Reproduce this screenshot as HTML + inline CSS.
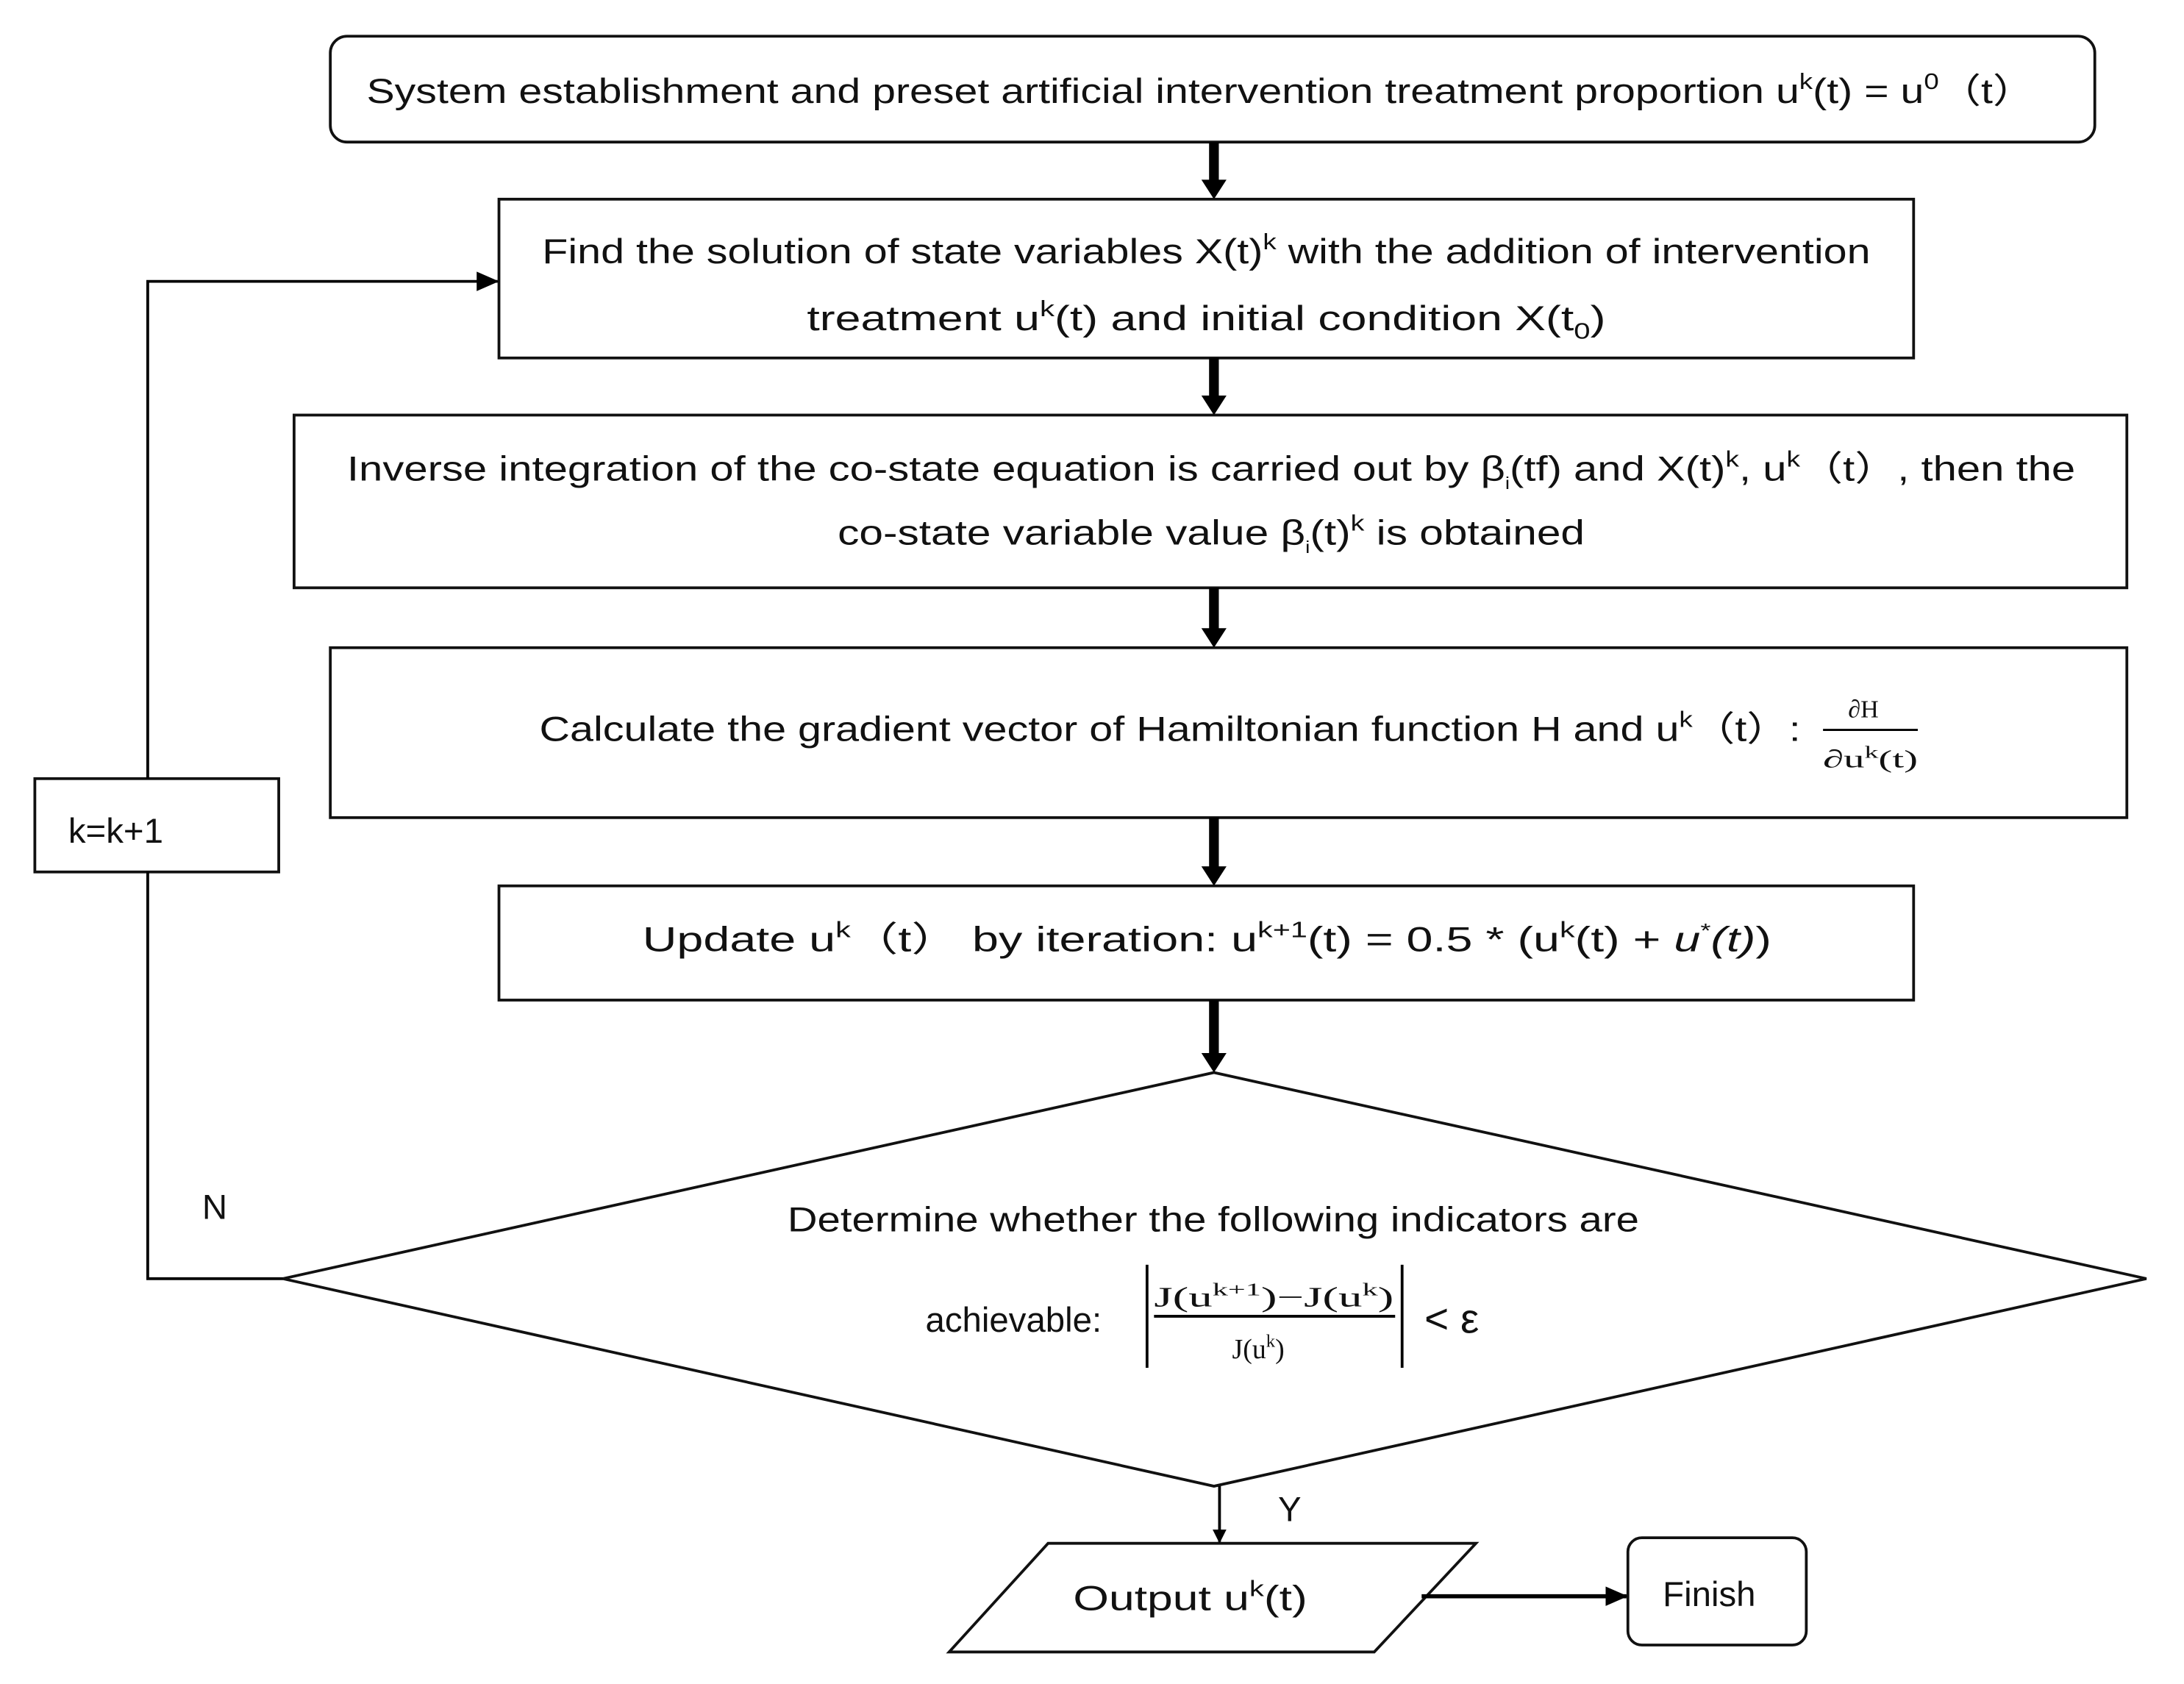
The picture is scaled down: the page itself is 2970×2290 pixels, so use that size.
<!DOCTYPE html>
<html><head><meta charset="utf-8"><style>
html,body{margin:0;padding:0;background:#fff;}
svg{display:block;}
text{font-family:"Liberation Sans",sans-serif;fill:#111;}
.m{font-family:"Liberation Serif",serif;}
</style></head><body>
<svg width="2970" height="2290" viewBox="0 0 1567 1209" preserveAspectRatio="none" xmlns="http://www.w3.org/2000/svg">
<defs>
<marker id="ah" markerWidth="10" markerHeight="10" refX="9" refY="5" orient="auto" markerUnits="userSpaceOnUse"><path d="M0,0 L10,5 L0,10 z" fill="#000"/></marker>
<marker id="ahs" markerWidth="16" markerHeight="14" refX="15" refY="7" orient="auto" markerUnits="userSpaceOnUse"><path d="M0,0 L16,7 L0,14 z" fill="#000"/></marker>
</defs>
<g fill="none" stroke="#111" stroke-width="2">
<rect x="237" y="26" width="1266" height="76" rx="12"/>
<rect x="358" y="143" width="1015" height="114"/>
<rect x="211" y="298" width="1315" height="124"/>
<rect x="237" y="465" width="1289" height="122"/>
<rect x="358" y="636" width="1015" height="82"/>
<polygon points="871,770 1540,918 871,1067 203,918"/>
<polygon points="752,1108 1059,1108 986,1186 681,1186"/>
<rect x="1168" y="1104" width="128" height="77" rx="10"/>
<rect x="25" y="559" width="175" height="67"/>
</g>
<g stroke="#000" stroke-width="7" fill="none">
<line x1="871" y1="102" x2="871" y2="130"/>
<line x1="871" y1="257" x2="871" y2="285"/>
<line x1="871" y1="422" x2="871" y2="452"/>
<line x1="871" y1="587" x2="871" y2="623"/>
<line x1="871" y1="718" x2="871" y2="757"/>
</g>
<g fill="#000">
<path d="M862,129 L880,129 L871,143 z"/>
<path d="M862,284 L880,284 L871,298 z"/>
<path d="M862,451 L880,451 L871,465 z"/>
<path d="M862,622 L880,622 L871,636 z"/>
<path d="M862,756 L880,756 L871,770 z"/>
</g>
<g stroke="#000" stroke-width="2" fill="none">
<line x1="875" y1="1067" x2="875" y2="1107" marker-end="url(#ah)"/>
<line x1="1020" y1="1146" x2="1167" y2="1146" stroke-width="3" marker-end="url(#ahs)"/>
<polyline points="203,918 106,918 106,626"/>
<polyline points="106,559 106,202 357,202" marker-end="url(#ahs)"/>
</g>
<g font-size="25">
<text x="263" y="74" textLength="1197" lengthAdjust="spacingAndGlyphs">System establishment and preset artificial intervention treatment proportion u<tspan font-size="16" dy="-10">k</tspan><tspan dy="10">(t) = u</tspan><tspan font-size="16" dy="-10">0</tspan><tspan dy="10">（t）</tspan></text>
<text x="389" y="189" textLength="953" lengthAdjust="spacingAndGlyphs">Find the solution of state variables  X(t)<tspan font-size="16" dy="-10">k</tspan><tspan dy="10">  with the addition of intervention</tspan></text>
<text x="579" y="237" textLength="573" lengthAdjust="spacingAndGlyphs">treatment  u<tspan font-size="16" dy="-10">k</tspan><tspan dy="10">(t) and initial condition X(t</tspan><tspan font-size="16" dy="6">0</tspan><tspan dy="-6">)</tspan></text>
<text x="249" y="345" textLength="1240" lengthAdjust="spacingAndGlyphs">Inverse integration of the co-state equation is carried out by β<tspan font-size="12" dy="6">i</tspan><tspan dy="-6">(tf)  and  X(t)</tspan><tspan font-size="16" dy="-10">k</tspan><tspan dy="10">,  u</tspan><tspan font-size="16" dy="-10">k</tspan><tspan dy="10">（t）,  then the</tspan></text>
<text x="601" y="391" textLength="536" lengthAdjust="spacingAndGlyphs">co-state variable value   β<tspan font-size="12" dy="6">i</tspan><tspan dy="-6">(t)</tspan><tspan font-size="16" dy="-10">k</tspan><tspan dy="10">  is obtained</tspan></text>
<text x="387" y="532" textLength="905" lengthAdjust="spacingAndGlyphs">Calculate the gradient vector of Hamiltonian function H and  u<tspan font-size="16" dy="-10">k</tspan><tspan dy="10">（t）:</tspan></text>
<text x="1326" y="515" font-size="18" class="m">∂H</text>
<line x1="1308" y1="524" x2="1376" y2="524" stroke="#000" stroke-width="1.5"/>
<text x="1308" y="551" font-size="18" class="m" textLength="68" lengthAdjust="spacingAndGlyphs">∂u<tspan font-size="12" dy="-7">k</tspan><tspan dy="7">(t)</tspan></text>
<text x="461" y="683" textLength="810" lengthAdjust="spacingAndGlyphs">Update  u<tspan font-size="16" dy="-10">k</tspan><tspan dy="10">（t）  by iteration:  u</tspan><tspan font-size="16" dy="-10">k+1</tspan><tspan dy="10">(t) = 0.5 * (u</tspan><tspan font-size="16" dy="-10">k</tspan><tspan dy="10">(t) + </tspan><tspan font-style="italic">u</tspan><tspan font-size="14" dy="-10">*</tspan><tspan dy="10" font-style="italic">(t)</tspan>)</text>
<text x="565" y="884" textLength="611" lengthAdjust="spacingAndGlyphs">Determine whether the following indicators are</text>
<text x="664" y="956">achievable:</text>
<line x1="823" y1="908" x2="823" y2="982" stroke="#000" stroke-width="2"/>
<line x1="1006" y1="908" x2="1006" y2="982" stroke="#000" stroke-width="2"/>
<text x="828" y="938" font-size="20" class="m" textLength="172" lengthAdjust="spacingAndGlyphs">J(u<tspan font-size="13" dy="-8">k+1</tspan><tspan dy="8">)−J(u</tspan><tspan font-size="13" dy="-8">k</tspan><tspan dy="8">)</tspan></text>
<line x1="828" y1="945" x2="1001" y2="945" stroke="#000" stroke-width="2"/>
<text x="884" y="975" font-size="20" class="m">J(u<tspan font-size="13" dy="-8">k</tspan><tspan dy="8">)</tspan></text>
<text x="1022" y="957" font-size="30">&lt; ε</text>
<text x="770" y="1156" textLength="168" lengthAdjust="spacingAndGlyphs">Output  u<tspan font-size="16" dy="-10">k</tspan><tspan dy="10">(t)</tspan></text>
<text x="1193" y="1153">Finish</text>
<text x="49" y="605">k=k+1</text>
<text x="145" y="875">N</text>
<text x="917" y="1092">Y</text>
</g>
</svg>
</body></html>
